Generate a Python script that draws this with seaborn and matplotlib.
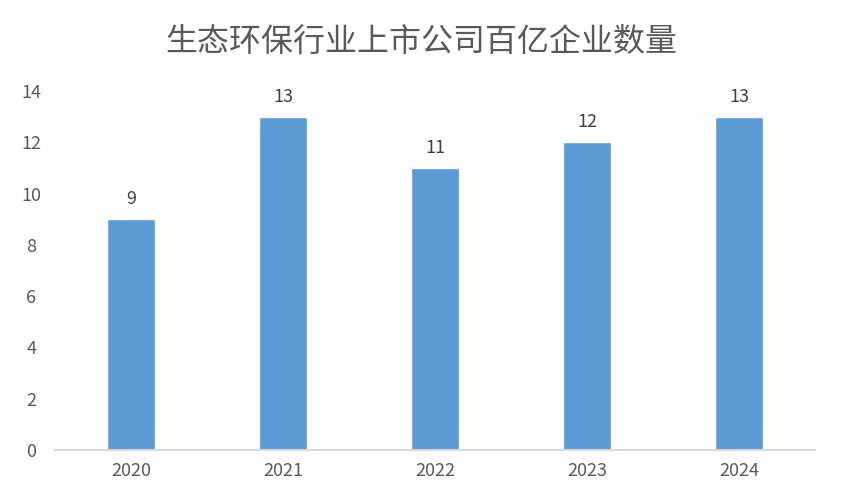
import matplotlib
matplotlib.use("Agg")
import matplotlib.pyplot as plt
import seaborn as sns
import pandas as pd

years = ["2020", "2021", "2022", "2023", "2024"]
counts = [9, 13, 11, 12, 13]
title = "生态环保行业上市公司百亿企业数量"
yticks = [0, 2, 4, 6, 8, 10, 12, 14]

sns.set_theme(style="white")
plt.rcParams['font.family'] = ['Noto Sans CJK SC', 'DejaVu Sans']

df = pd.DataFrame({"year": years, "count": counts})

fig = plt.figure(figsize=(8.41, 5.04), dpi=100)
ax = fig.add_axes([55/841, (504-450)/504, (815-55)/841, (450-91)/504])

sns.barplot(data=df, x="year", y="count", color="#5B9BD5", saturation=1, width=0.31, ax=ax)

ax.set_ylim(0, 14)
ax.set_xlim(-0.5, 4.5)
ax.set_yticks(yticks)
ax.set_xlabel("")
ax.set_ylabel("")
for s in ["top", "right", "left"]:
    ax.spines[s].set_visible(False)
ax.spines["bottom"].set_color("#D9D9D9")
ax.spines["bottom"].set_linewidth(1.5)
ax.tick_params(axis="both", length=0, labelsize=13, labelcolor="#595959")
ax.tick_params(axis="x", pad=9)
ax.tick_params(axis="y", pad=17)
for lbl in ax.get_yticklabels():
    lbl.set_horizontalalignment("center")

for c in ax.containers:
    ax.bar_label(c, labels=[str(v) for v in counts], padding=8, fontsize=13, color="#404040")

fig.text(421/841, 1 - 42/504, title, ha="center", va="center", fontsize=23, color="#595959")

fig.savefig("out.png", dpi=100)
